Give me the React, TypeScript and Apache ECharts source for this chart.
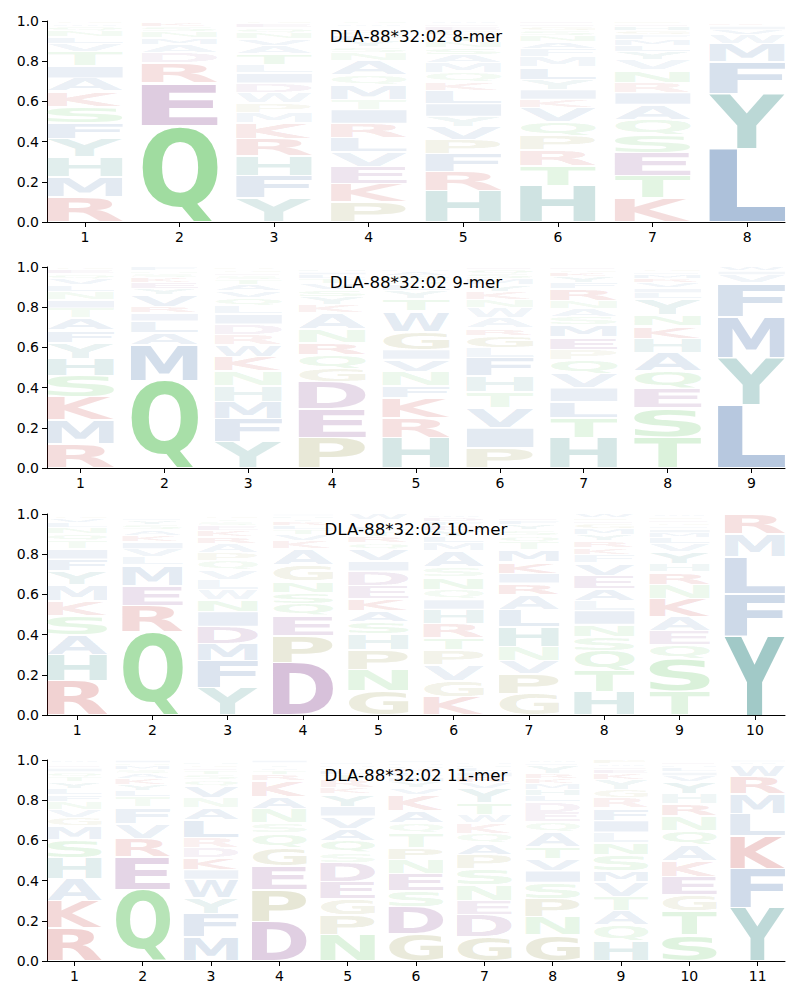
import React, { useEffect, useRef } from "react";
import * as echarts from "echarts";

type Stack = [string, number][];

const titles = [
  "DLA-88*32:02 8-mer",
  "DLA-88*32:02 9-mer",
  "DLA-88*32:02 10-mer",
  "DLA-88*32:02 11-mer",
];

// letter heights per position, bottom -> top
const mer8: Stack[] = [
  [["R", .125], ["M", .10], ["H", .10], ["Y", .09], ["F", .08], ["S", .08], ["K", .075], ["A", .065], ["I", .06], ["T", .07], ["V", .04], ["L", .035], ["N", .03], ["Q", .02], ["W", .015], ["G", .015]],
  [["Q", .48], ["E", .21], ["R", .10], ["D", .05], ["A", .04], ["M", .035], ["N", .03], ["S", .025], ["K", .02], ["V", .01]],
  [["Y", .12], ["F", .11], ["H", .10], ["R", .085], ["K", .08], ["M", .05], ["P", .05], ["W", .05], ["D", .045], ["I", .05], ["L", .04], ["T", .055], ["A", .04], ["V", .035], ["N", .03], ["Q", .025], ["E", .02], ["G", .015]],
  [["P", .10], ["K", .09], ["E", .085], ["V", .075], ["L", .07], ["R", .07], ["I", .07], ["T", .05], ["M", .07], ["Q", .05], ["A", .07], ["N", .04], ["S", .03], ["Y", .03], ["F", .025], ["G", .02], ["D", .015], ["H", .01], ["W", .015], ["C", .015]],
  [["H", .155], ["R", .095], ["F", .09], ["P", .07], ["V", .065], ["Y", .05], ["I", .065], ["L", .065], ["K", .04], ["Q", .045], ["M", .05], ["A", .04], ["S", .035], ["N", .03], ["T", .03], ["G", .025], ["E", .02], ["D", .015], ["W", .015]],
  [["H", .18], ["T", .10], ["R", .08], ["P", .07], ["Q", .07], ["V", .07], ["K", .04], ["I", .05], ["Y", .05], ["L", .06], ["M", .05], ["F", .04], ["A", .035], ["N", .03], ["S", .025], ["G", .02], ["E", .015], ["D", .015]],
  [["K", .12], ["T", .11], ["E", .115], ["S", .085], ["Q", .08], ["A", .075], ["I", .06], ["R", .05], ["N", .06], ["V", .05], ["Y", .04], ["L", .03], ["M", .03], ["F", .025], ["G", .02], ["H", .02], ["D", .015], ["P", .015]],
  [["L", .365], ["Y", .275], ["F", .155], ["M", .09], ["W", .045], ["V", .025], ["I", .02], ["K", .015], ["R", .01]],
];

const mer9: Stack[] = [
  [["R", .12], ["M", .12], ["K", .115], ["S", .105], ["H", .085], ["Y", .08], ["F", .06], ["A", .06], ["T", .05], ["I", .04], ["N", .04], ["L", .035], ["V", .03], ["Q", .025], ["E", .02], ["G", .015]],
  [["Q", .435], ["M", .175], ["A", .06], ["L", .06], ["I", .04], ["R", .03], ["V", .06], ["Y", .03], ["E", .03], ["K", .025], ["S", .02], ["N", .015], ["F", .02]],
  [["Y", .13], ["F", .115], ["M", .085], ["H", .08], ["N", .075], ["K", .07], ["W", .06], ["R", .05], ["D", .05], ["I", .05], ["L", .04], ["Q", .04], ["V", .035], ["A", .03], ["T", .025], ["S", .02], ["E", .015], ["G", .015], ["P", .015]],
  [["P", .15], ["E", .145], ["D", .135], ["G", .065], ["Q", .07], ["R", .06], ["N", .065], ["A", .08], ["K", .04], ["Y", .04], ["S", .035], ["V", .03], ["T", .025], ["L", .02], ["I", .015], ["H", .015], ["M", .01]],
  [["H", .15], ["R", .10], ["K", .10], ["F", .06], ["N", .07], ["V", .06], ["I", .05], ["G", .09], ["W", .10], ["T", .06], ["Y", .04], ["L", .03], ["S", .025], ["Q", .02], ["A", .02], ["M", .015], ["E", .01]],
  [["P", .10], ["I", .10], ["V", .10], ["T", .08], ["H", .08], ["F", .09], ["L", .05], ["G", .06], ["R", .035], ["A", .05], ["W", .05], ["N", .04], ["K", .04], ["Y", .035], ["M", .03], ["S", .025], ["Q", .02], ["E", .015]],
  [["H", .15], ["T", .10], ["L", .08], ["I", .07], ["V", .07], ["Q", .07], ["P", .05], ["E", .06], ["M", .06], ["S", .04], ["A", .04], ["N", .04], ["R", .06], ["F", .03], ["Y", .03], ["K", .02], ["G", .015], ["D", .015]],
  [["T", .155], ["S", .145], ["E", .095], ["Q", .09], ["A", .09], ["H", .07], ["K", .06], ["N", .055], ["Y", .08], ["L", .03], ["I", .025], ["V", .025], ["R", .02], ["M", .02], ["F", .015], ["G", .015], ["D", .01]],
  [["L", .315], ["Y", .235], ["M", .205], ["F", .165], ["V", .04], ["I", .02], ["W", .02]],
];

const mer10: Stack[] = [
  [["R", .17], ["H", .13], ["A", .10], ["S", .095], ["K", .075], ["M", .08], ["Y", .065], ["F", .06], ["I", .05], ["T", .04], ["Q", .035], ["N", .03], ["L", .025], ["V", .02], ["G", .015], ["E", .01]],
  [["Q", .415], ["R", .13], ["E", .10], ["M", .10], ["L", .04], ["V", .04], ["I", .035], ["K", .03], ["A", .03], ["S", .025], ["Y", .02], ["F", .015], ["T", .01], ["N", .01]],
  [["Y", .135], ["F", .135], ["M", .085], ["D", .085], ["I", .075], ["N", .06], ["W", .05], ["L", .05], ["V", .045], ["Q", .045], ["P", .04], ["A", .045], ["R", .035], ["K", .03], ["E", .025], ["S", .02], ["T", .015], ["G", .015], ["H", .01]],
  [["D", .26], ["P", .135], ["E", .10], ["Q", .06], ["S", .055], ["N", .055], ["G", .08], ["A", .08], ["K", .04], ["V", .03], ["T", .025], ["L", .02], ["R", .02], ["Y", .015], ["H", .015], ["I", .01]],
  [["G", .12], ["N", .105], ["P", .10], ["H", .08], ["S", .06], ["A", .055], ["K", .06], ["E", .065], ["D", .07], ["I", .05], ["V", .06], ["Q", .03], ["R", .03], ["T", .03], ["L", .02], ["Y", .015], ["M", .01], ["F", .01], ["W", .03]],
  [["K", .09], ["G", .08], ["V", .08], ["P", .075], ["T", .06], ["R", .07], ["H", .07], ["I", .05], ["Q", .05], ["N", .06], ["S", .05], ["A", .08], ["M", .04], ["L", .03], ["Y", .03], ["E", .025], ["F", .02], ["D", .02], ["W", .015]],
  [["G", .105], ["P", .10], ["V", .065], ["N", .07], ["H", .10], ["L", .085], ["A", .075], ["R", .055], ["I", .05], ["K", .055], ["M", .06], ["T", .04], ["Q", .03], ["S", .03], ["Y", .025], ["F", .02], ["E", .015], ["D", .01], ["W", .01]],
  [["H", .115], ["T", .105], ["Q", .10], ["S", .07], ["N", .06], ["I", .07], ["L", .05], ["A", .06], ["E", .065], ["V", .06], ["F", .04], ["K", .035], ["R", .035], ["Y", .03], ["M", .03], ["G", .025], ["D", .015], ["P", .015], ["W", .02]],
  [["T", .12], ["S", .16], ["Q", .07], ["E", .07], ["A", .07], ["K", .09], ["N", .07], ["R", .06], ["H", .04], ["Y", .06], ["V", .04], ["L", .03], ["M", .025], ["I", .02], ["F", .015], ["G", .015], ["D", .015], ["P", .015], ["W", .015]],
  [["Y", .395], ["F", .21], ["L", .185], ["M", .11], ["R", .10]],
];

const mer11: Stack[] = [
  [["R", .165], ["K", .135], ["A", .11], ["H", .105], ["S", .09], ["M", .065], ["G", .04], ["V", .04], ["N", .04], ["F", .035], ["L", .03], ["Y", .035], ["T", .025], ["Q", .025], ["I", .02], ["E", .015], ["D", .01], ["W", .015]],
  [["Q", .355], ["E", .165], ["R", .09], ["V", .075], ["F", .08], ["T", .05], ["L", .03], ["Y", .03], ["K", .03], ["A", .025], ["S", .02], ["M", .02], ["N", .015], ["I", .015]],
  [["M", .12], ["F", .115], ["Y", .08], ["W", .09], ["I", .05], ["K", .06], ["D", .05], ["R", .05], ["L", .085], ["A", .06], ["N", .05], ["V", .06], ["Q", .03], ["S", .025], ["T", .02], ["E", .015], ["G", .015], ["H", .015], ["P", .01]],
  [["D", .195], ["P", .16], ["E", .12], ["G", .09], ["Q", .07], ["S", .05], ["N", .07], ["A", .06], ["K", .08], ["R", .03], ["T", .02], ["V", .015], ["Y", .015], ["L", .01], ["I", .015]],
  [["N", .13], ["P", .10], ["G", .08], ["E", .085], ["D", .095], ["S", .05], ["Q", .06], ["A", .06], ["V", .06], ["I", .05], ["Y", .06], ["K", .03], ["R", .04], ["T", .025], ["L", .02], ["H", .015], ["M", .015], ["F", .015], ["W", .01]],
  [["G", .135], ["D", .135], ["S", .08], ["E", .085], ["N", .07], ["P", .06], ["T", .07], ["Q", .05], ["A", .06], ["K", .08], ["V", .035], ["Y", .03], ["I", .025], ["L", .02], ["R", .02], ["H", .015], ["M", .015], ["F", .015]],
  [["G", .12], ["D", .11], ["E", .07], ["N", .08], ["S", .08], ["P", .07], ["A", .055], ["Q", .05], ["K", .05], ["W", .04], ["T", .06], ["Y", .07], ["V", .03], ["R", .03], ["I", .025], ["L", .02], ["H", .015], ["M", .015], ["F", .01]],
  [["G", .13], ["N", .09], ["P", .09], ["S", .08], ["I", .06], ["V", .06], ["T", .06], ["A", .07], ["Q", .05], ["E", .05], ["D", .05], ["L", .03], ["H", .03], ["M", .03], ["K", .025], ["R", .025], ["Y", .04], ["F", .015], ["W", .015]],
  [["H", .10], ["Q", .08], ["A", .07], ["T", .07], ["V", .075], ["M", .055], ["S", .08], ["N", .06], ["L", .05], ["I", .06], ["F", .06], ["R", .05], ["G", .04], ["Y", .05], ["K", .03], ["E", .02], ["D", .015], ["W", .015], ["P", .02]],
  [["S", .13], ["T", .12], ["G", .08], ["E", .09], ["K", .08], ["A", .08], ["Q", .07], ["N", .07], ["R", .06], ["H", .05], ["Y", .06], ["V", .03], ["I", .02], ["L", .02], ["M", .015], ["D", .015], ["F", .01]],
  [["Y", .265], ["F", .195], ["K", .165], ["L", .11], ["M", .095], ["R", .085], ["W", .06], ["V", .015], ["I", .01]],
];

const panels = [mer8, mer9, mer10, mer11];

const RED = "#b91e1e";
const PURPLE = "#73287d";
const GREEN = "#3fb83f";
const BLUE = "#2d5fa0";
const TEAL = "#1e7d78";
const OLIVE = "#828228";
const letterColors: Record<string, string> = {
  K: RED, R: RED,
  D: PURPLE, E: PURPLE,
  S: GREEN, T: GREEN, N: GREEN, Q: GREEN, C: GREEN,
  A: BLUE, V: BLUE, L: BLUE, I: BLUE, M: BLUE, F: BLUE, W: BLUE,
  H: TEAL, Y: TEAL,
  P: OLIVE, G: OLIVE,
};
const ALPHABET = "ACDEFGHIKLMNPQRSTVWY";
const FONT = 'bold 100px "DejaVu Sans"';

type Metric = { l: number; r: number; a: number; d: number };

function measureGlyphs(): { metrics: Record<string, Metric>; central: number } {
  const canvas = document.createElement("canvas");
  const ctx = canvas.getContext("2d")!;
  ctx.font = FONT;
  ctx.textAlign = "left";
  ctx.textBaseline = "alphabetic";
  const metrics: Record<string, Metric> = {};
  for (const ch of ALPHABET) {
    const m = ctx.measureText(ch);
    metrics[ch] = {
      l: m.actualBoundingBoxLeft,
      r: m.actualBoundingBoxRight,
      a: m.actualBoundingBoxAscent,
      d: m.actualBoundingBoxDescent,
    };
  }
  const ns = "http://www.w3.org/2000/svg";
  const svg = document.createElementNS(ns, "svg");
  svg.setAttribute("width", "400");
  svg.setAttribute("height", "400");
  (svg as any).style.position = "absolute";
  (svg as any).style.left = "-2000px";
  (svg as any).style.top = "0px";
  const mk = (baseline: string | null) => {
    const t = document.createElementNS(ns, "text");
    t.setAttribute("x", "0");
    t.setAttribute("y", "200");
    if (baseline) t.setAttribute("dominant-baseline", baseline);
    t.setAttribute("style", "font: " + FONT);
    t.textContent = "H";
    svg.appendChild(t);
    return t as SVGTextElement;
  };
  const ta = mk(null);
  const tc = mk("central");
  document.body.appendChild(svg);
  let central = 0;
  try {
    central = tc.getBBox().y - ta.getBBox().y;
  } catch (e) {
    central = 0;
  }
  document.body.removeChild(svg);
  return { metrics, central };
}

function buildData(stacks: Stack[]) {
  const out: number[][] = [];
  stacks.forEach((stack, i) => {
    let y = 0;
    stack.forEach(([ch, h]) => {
      out.push([i + 1, y, y + h, ALPHABET.indexOf(ch), h]);
      y += h;
    });
  });
  return out;
}

const gridTops = [21, 267, 514, 760];
const GRID_LEFT = 47;
const GRID_W = 738;
const GRID_H = 201;

export default function App() {
  const ref = useRef<HTMLDivElement>(null);
  useEffect(() => {
    if (!ref.current) return;
    document.body.style.margin = "0";
    const { metrics, central } = measureGlyphs();
    const chart = echarts.init(ref.current, undefined, { renderer: "svg" });

    const renderItem = (params: any, api: any) => {
      const pos = api.value(0);
      const y0 = api.value(1);
      const y1 = api.value(2);
      const ch = ALPHABET[api.value(3)];
      const h = api.value(4);
      const pad = 0.004;
      const pA = api.coord([pos - 0.4, y1 - pad]);
      const pB = api.coord([pos + 0.4, y0 + pad]);
      const w = pB[0] - pA[0];
      const hh = pB[1] - pA[1];
      if (hh <= 0.05) return null;
      const m = metrics[ch];
      const sx = w / (m.l + m.r);
      const sy = hh / (m.a + m.d);
      const x = pA[0] + sx * m.l;
      const y = pA[1] - sy * (central - m.a);
      const alpha = Math.min(0.95, 0.04 + 0.95 * h);
      return {
        type: "text",
        x,
        y,
        scaleX: sx,
        scaleY: sy,
        style: {
          text: ch,
          x: 0,
          y: 0,
          font: FONT,
          fill: letterColors[ch],
          opacity: alpha,
          textAlign: "left",
          textVerticalAlign: "middle",
          verticalAlign: "middle",
        },
      };
    };

    const axisFont = { color: "#000", fontSize: 14, fontFamily: "DejaVu Sans" };

    const option: any = {
      animation: false,
      grid: panels.map((_, i) => ({ left: GRID_LEFT, top: gridTops[i], width: GRID_W, height: GRID_H })),
      xAxis: panels.map((p, i) => {
        const positions = p.map((_, k) => k + 1);
        return {
          type: "value",
          gridIndex: i,
          min: 0.6,
          max: p.length + 0.4,
          axisLine: { show: true, onZero: false, lineStyle: { color: "#000", width: 1 } },
          axisTick: { show: true, length: 5, customValues: positions, lineStyle: { color: "#000", width: 1 } },
          axisLabel: { ...axisFont, margin: 8, customValues: positions },
          splitLine: { show: false },
        };
      }),
      yAxis: panels.map((_, i) => ({
        type: "value",
        gridIndex: i,
        min: 0,
        max: 1,
        interval: 0.2,
        axisLine: { show: true, onZero: false, lineStyle: { color: "#000", width: 1 } },
        axisTick: { show: true, length: 5, lineStyle: { color: "#000", width: 1 } },
        axisLabel: { ...axisFont, margin: 8, formatter: (v: number) => v.toFixed(1) },
        splitLine: { show: false },
      })),
      graphic: titles.map((t, i) => ({
        type: "text",
        x: GRID_LEFT + GRID_W / 2,
        y: gridTops[i] + 15,
        z: 100,
        style: {
          text: t,
          font: '16.67px "DejaVu Sans"',
          fill: "#000",
          textAlign: "center",
          textVerticalAlign: "middle",
          verticalAlign: "middle",
        },
      })),
      series: panels.map((p, i) => ({
        type: "custom",
        xAxisIndex: i,
        yAxisIndex: i,
        renderItem,
        data: buildData(p),
        clip: false,
      })),
    };
    chart.setOption(option);
    return () => chart.dispose();
  }, []);
  return (
    <div
      ref={ref}
      style={{ position: "absolute", left: 0, top: 0, width: 800, height: 1000, background: "#fff" }}
    />
  );
}
